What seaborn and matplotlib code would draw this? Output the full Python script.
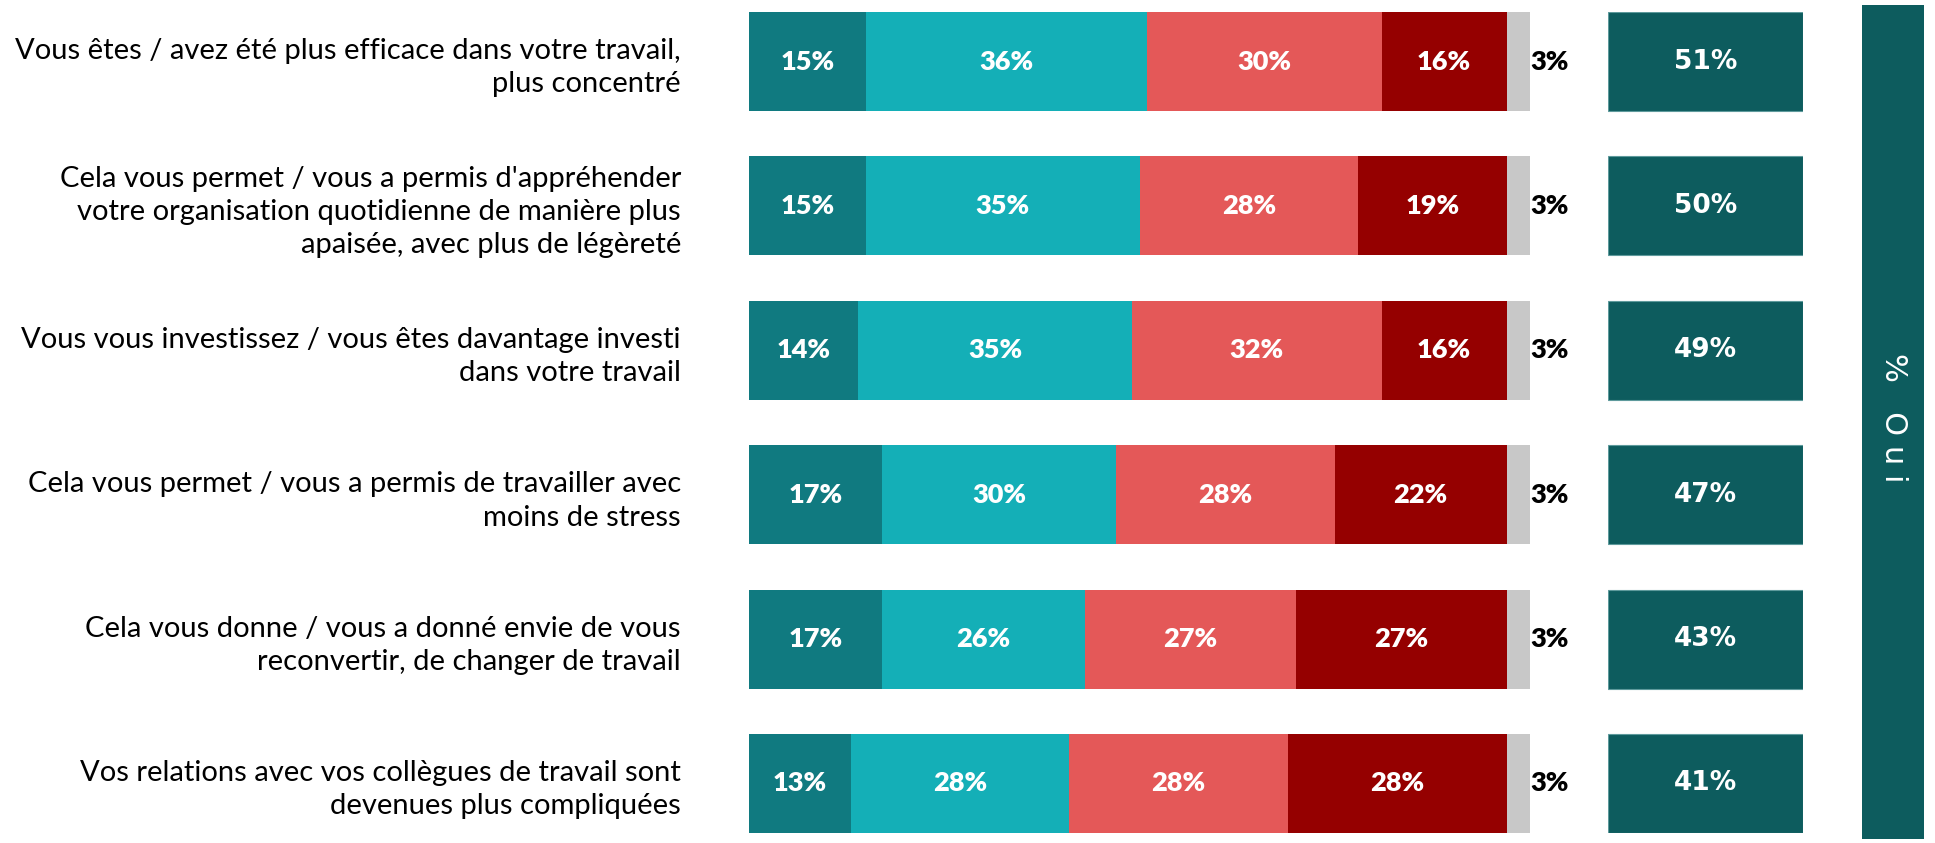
import numpy as np
import pandas as pd
import seaborn as sns
import matplotlib.pyplot as plt

sns.set_style('white')
plt.rcParams['font.family'] = ['Lato', 'DejaVu Sans']
plt.rcParams['text.color'] = 'black'
plt.rcParams['ytick.color'] = 'black'

questions = [
    "Vous êtes / avez été plus efficace dans votre travail,\nplus concentré",
    "Cela vous permet / vous a permis d'appréhender\nvotre organisation quotidienne de manière plus\napaisée, avec plus de légèreté",
    "Vous vous investissez / vous êtes davantage investi\ndans votre travail",
    "Cela vous permet / vous a permis de travailler avec\nmoins de stress",
    "Cela vous donne / vous a donné envie de vous\nreconvertir, de changer de travail",
    "Vos relations avec vos collègues de travail sont\ndevenues plus compliquées",
]

oui_tout_a_fait = [15, 15, 14, 17, 17, 13]
oui_plutot = [36, 35, 35, 30, 26, 28]
non_plutot_pas = [30, 28, 32, 28, 27, 28]
non_pas_du_tout = [16, 19, 16, 22, 27, 28]
nsp = [3, 3, 3, 3, 3, 3]
total_oui = [51, 50, 49, 47, 43, 41]

segments = [oui_tout_a_fait, oui_plutot, non_plutot_pas, non_pas_du_tout, nsp]
colors = ['#107A80', '#14AFB7', '#E45858', '#950000', '#C8C8C8']
dark = '#0D5C5E'

W, H = 1935, 843
fig = plt.figure(figsize=(W / 100, H / 100), dpi=100)

bar_h = 0.686
# main stacked bars: x 749 -> 1530 px, y 12 -> 833 px
ax = fig.add_axes([749 / W, (H - 833) / H, (1530 - 749) / W, 821 / H])

df = pd.DataFrame({'question': questions})
cum = np.cumsum(np.array(segments), axis=0)
for i in range(len(segments) - 1, -1, -1):
    df['cum'] = cum[i]
    sns.barplot(data=df, x='cum', y='question', orient='h', color=colors[i],
                width=bar_h, saturation=1, ax=ax, edgecolor='none')

for i in range(len(segments)):
    left = cum[i] - np.array(segments[i])
    for r, v in enumerate(segments[i]):
        if i == len(segments) - 1:
            ax.text(cum[i][r] + 0.1, r, f'{v}%', ha='left', va='center',
                    color='black', fontsize=19.5, fontweight='heavy')
        else:
            ax.text(left[r] + v / 2, r, f'{v}%', ha='center', va='center',
                    color='white', fontsize=19.5, fontweight='heavy')

ax.set_xlim(0, 100)
ax.set_ylim(len(questions) - 1 + bar_h / 2, -bar_h / 2)
ax.set_xlabel(None)
ax.set_ylabel(None)
ax.set_xticks([])
ax.tick_params(axis='y', length=0, pad=49, labelsize=21, labelcolor='black')
for t in ax.get_yticklabels():
    t.set_linespacing(1.35)
sns.despine(ax=ax, left=True, bottom=True)

# total "oui" boxes
ax2 = fig.add_axes([1608 / W, (H - 833) / H, (1803 - 1608) / W, 821 / H])
df2 = pd.DataFrame({'question': questions, 'box': [1] * len(questions)})
sns.barplot(data=df2, x='box', y='question', orient='h', color=dark,
            width=bar_h, saturation=1, ax=ax2, edgecolor='#5E9A9C', linewidth=0.8)
for r, v in enumerate(total_oui):
    ax2.text(0.5, r, f'{v}%', ha='center', va='center', color='white',
             fontsize=19, fontweight='bold', family='DejaVu Sans')
ax2.set_xlim(0, 1)
ax2.set_ylim(len(questions) - 1 + bar_h / 2, -bar_h / 2)
ax2.set_xlabel(None)
ax2.set_ylabel(None)
ax2.set_xticks([])
ax2.set_yticks([])
sns.despine(ax=ax2, left=True, bottom=True)

# "% Oui" band
ax3 = fig.add_axes([1862 / W, (H - 839) / H, (1924 - 1862) / W, 834 / H])
ax3.set_facecolor(dark)
ax3.set_xticks([])
ax3.set_yticks([])
for s in ax3.spines.values():
    s.set_visible(False)
ax3.text(0.5, 0.505, '%   O u i', rotation=270, ha='center', va='center',
         color='white', fontsize=22, family='DejaVu Sans', transform=ax3.transAxes)

fig.savefig('out.png', dpi=100)
